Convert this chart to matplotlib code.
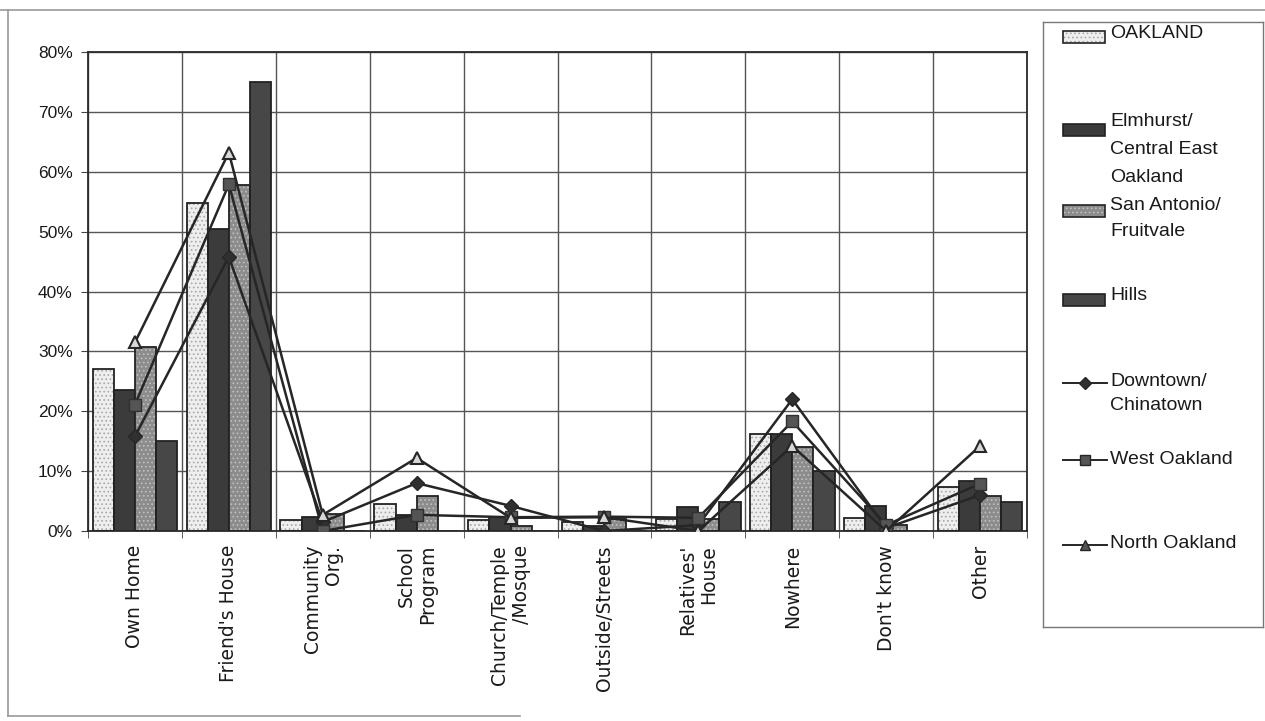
import numpy as np
import matplotlib
matplotlib.use("Agg")
import matplotlib.pyplot as plt
from matplotlib.lines import Line2D
from matplotlib.patches import Rectangle

plt.rcParams['font.family'] = ['Liberation Sans', 'DejaVu Sans']
plt.rcParams['hatch.linewidth'] = 0.7

# values in percent
categories = ["Own Home", "Friend's House", "Community\nOrg.", "School\nProgram",
              "Church/Temple\n/Mosque", "Outside/Streets", "Relatives'\nHouse",
              "Nowhere", "Don't know", "Other"]

oakland = [27.1, 54.7, 1.8, 4.5, 1.9, 1.5, 2.0, 16.2, 2.2, 7.4]
elmhurst = [23.6, 50.5, 2.3, 2.6, 2.3, 0.8, 4.0, 16.2, 4.2, 8.3]
san_antonio = [30.8, 57.8, 2.8, 5.8, 0.8, 2.0, 2.0, 14.0, 1.0, 5.8]
hills = [15.0, 75.0, 0.0, 0.0, 0.0, 0.0, 4.8, 10.0, 0.0, 4.8]

downtown = [15.8, 45.8, 1.5, 8.0, 4.2, 0.0, 1.0, 22.0, 0.5, 6.0]
west_oakland = [21.1, 57.9, 0.0, 2.7, 2.3, 2.4, 2.2, 18.3, 1.0, 7.9]
north_oakland = [31.5, 63.2, 2.7, 12.2, 2.2, 2.3, 0.0, 14.2, 0.0, 14.2]

yticks = [0, 10, 20, 30, 40, 50, 60, 70, 80]

W, H = 1265, 721
fig = plt.figure(figsize=(W / 100, H / 100), dpi=100)
fig.patch.set_facecolor('white')

ax = fig.add_axes([88 / W, 1 - 531 / H, (1027 - 88) / W, (531 - 52) / H])

x = np.arange(len(categories))
w = 0.225
bar_styles = [
    (oakland, '#eeeeee', '#a8a8a8', '....'),
    (elmhurst, '#3b3b3b', None, None),
    (san_antonio, '#8c8c8c', '#c0c0c0', '....'),
    (hills, '#474747', None, None),
]
for i, (vals, fc, hc, hatch) in enumerate(bar_styles):
    pos = x + (i - 1.5) * w
    if hatch:
        ax.bar(pos, vals, w, color=fc, edgecolor=hc, hatch=hatch, linewidth=0, zorder=2)
        ax.bar(pos, vals, w, color='none', edgecolor='#222222', linewidth=1.3, zorder=3)
    else:
        ax.bar(pos, vals, w, color=fc, edgecolor='#222222', linewidth=1.3, zorder=2)

ax.plot(x, downtown, color='#262626', lw=1.8, marker='D', ms=7,
        mfc='#303030', mec='#262626', zorder=4)
ax.plot(x, west_oakland, color='#262626', lw=1.8, marker='s', ms=8,
        mfc='#555555', mec='#303030', zorder=4)
ax.plot(x, north_oakland, color='#262626', lw=1.8, marker='^', ms=9,
        mfc='#d8d8d8', mec='#262626', mew=1.5, zorder=5)

ax.set_xlim(-0.5, len(categories) - 0.5)
ax.set_ylim(0, 80)
ax.set_yticks(yticks)
ax.set_yticklabels([f"{v}%" for v in yticks], fontsize=12.5, color='#1a1a1a')
ax.set_xticks(x)
ax.set_xticklabels(categories, rotation=90, fontsize=13.5, family='DejaVu Sans',
                   color='#1a1a1a', multialignment='right', linespacing=1.15)
ax.set_xticks(np.arange(-0.5, len(categories)), minor=True)
ax.tick_params(axis='x', which='major', length=0, pad=10)
ax.tick_params(axis='x', which='minor', length=5, color='#444444', direction='out')
ax.tick_params(axis='y', length=5, color='#444444', direction='out', pad=6)

ax.yaxis.grid(True, color='#555555', lw=1.0, zorder=0)
ax.xaxis.grid(True, which='minor', color='#555555', lw=1.0, zorder=0)
ax.set_axisbelow(True)
for s in ax.spines.values():
    s.set_color('#2a2a2a')
    s.set_linewidth(1.3)

# legend box drawn in pixel coordinates
lg = fig.add_axes([1043 / W, 1 - 627 / H, 220 / W, 605 / H])
lg.set_xlim(1043, 1263)
lg.set_ylim(627, 22)
lg.set_xticks([])
lg.set_yticks([])
for s in lg.spines.values():
    s.set_color('#777777')
    s.set_linewidth(1.0)

patch_rows = [(37, '#eeeeee', '#a8a8a8', '....'), (130, '#3b3b3b', None, None),
              (211, '#8c8c8c', '#c0c0c0', '....'), (300, '#474747', None, None)]
for yc, fc, hc, hatch in patch_rows:
    if hatch:
        lg.add_patch(Rectangle((1063, yc - 6), 42, 12, facecolor=fc, edgecolor=hc,
                               hatch=hatch, linewidth=0))
        lg.add_patch(Rectangle((1063, yc - 6), 42, 12, facecolor='none',
                               edgecolor='#222222', linewidth=1.2))
    else:
        lg.add_patch(Rectangle((1063, yc - 6), 42, 12, facecolor=fc,
                               edgecolor='#222222', linewidth=1.2))

line_rows = [(383, 'D', 6, '#303030'), (460, 's', 7, '#555555'), (545, '^', 7, '#555555')]
for yc, mk, ms, mfc in line_rows:
    lg.add_line(Line2D([1063, 1107], [yc, yc], color='#262626', lw=1.4))
    lg.add_line(Line2D([1085], [yc], marker=mk, ms=ms, mfc=mfc, mec='#262626'))

legend_text = [("OAKLAND", 34), ("Elmhurst/", 122), ("Central East", 150), ("Oakland", 178),
               ("San Antonio/", 205), ("Fruitvale", 232), ("Hills", 296),
               ("Downtown/", 381), ("Chinatown", 406), ("West Oakland", 459),
               ("North Oakland", 543)]
for txt, yc in legend_text:
    lg.text(1110, yc, txt, fontsize=14, va='center', ha='left', color='#1a1a1a')

# scanned page frame
fig.add_artist(Line2D([0, 1], [1 - 10 / H, 1 - 10 / H], color='#999999', lw=1.2))
fig.add_artist(Line2D([8 / W, 8 / W], [1 - 10 / H, 1 - 716 / H], color='#999999', lw=1.2))
fig.add_artist(Line2D([8 / W, 520 / W], [1 - 716 / H, 1 - 716 / H], color='#999999', lw=1.2))

fig.savefig("out.png", dpi=100)
